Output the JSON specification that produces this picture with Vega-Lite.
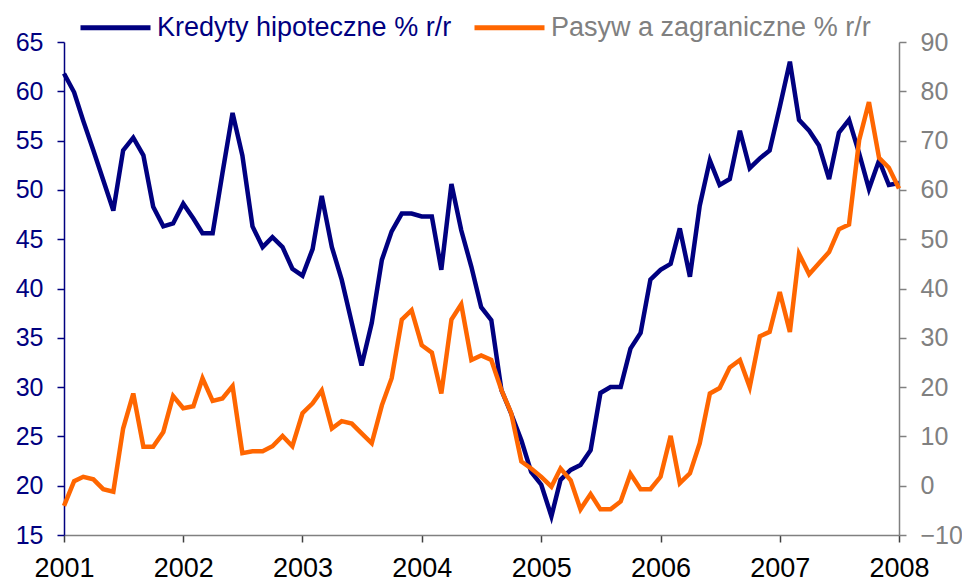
{
  "$schema": "https://vega.github.io/schema/vega-lite/v6.json",
  "width": 835,
  "height": 493,
  "autosize": {"type": "none"},
  "padding": {"left": 64, "top": 42, "right": 63, "bottom": 51},
  "background": "white",
  "config": {"view": {"stroke": null}, "font": "Liberation Sans", "axis": {"grid": false}},
  "data": {"values": [
    {"d":"2001-01-01","k":61.8,"p":-4.1},{"d":"2001-02-01","k":59.9,"p":0.9},{"d":"2001-03-01","k":57.0,"p":1.8},{"d":"2001-04-01","k":54.0,"p":1.3},{"d":"2001-05-01","k":51.0,"p":-0.7},{"d":"2001-06-01","k":47.9,"p":-1.2},{"d":"2001-07-01","k":54.0,"p":11.6},{"d":"2001-08-01","k":55.3,"p":18.7},{"d":"2001-09-01","k":53.5,"p":7.9},{"d":"2001-10-01","k":48.3,"p":7.9},{"d":"2001-11-01","k":46.3,"p":10.9},{"d":"2001-12-01","k":46.6,"p":18.2},
    {"d":"2002-01-01","k":48.6,"p":15.7},{"d":"2002-02-01","k":47.1,"p":16.1},{"d":"2002-03-01","k":45.6,"p":21.8},{"d":"2002-04-01","k":45.6,"p":17.2},{"d":"2002-05-01","k":51.7,"p":17.7},{"d":"2002-06-01","k":57.8,"p":20.2},{"d":"2002-07-01","k":53.5,"p":6.6},{"d":"2002-08-01","k":46.3,"p":7.0},{"d":"2002-09-01","k":44.2,"p":7.0},{"d":"2002-10-01","k":45.2,"p":8.0},{"d":"2002-11-01","k":44.2,"p":10.1},{"d":"2002-12-01","k":42.0,"p":8.0},
    {"d":"2003-01-01","k":41.3,"p":14.7},{"d":"2003-02-01","k":44.0,"p":16.7},{"d":"2003-03-01","k":49.4,"p":19.3},{"d":"2003-04-01","k":44.2,"p":11.6},{"d":"2003-05-01","k":40.9,"p":13.1},{"d":"2003-06-01","k":36.5,"p":12.6},{"d":"2003-07-01","k":32.2,"p":10.6},{"d":"2003-08-01","k":36.5,"p":8.6},{"d":"2003-09-01","k":42.9,"p":16.3},{"d":"2003-10-01","k":45.8,"p":21.8},{"d":"2003-11-01","k":47.6,"p":33.7},{"d":"2003-12-01","k":47.6,"p":35.6},
    {"d":"2004-01-01","k":47.3,"p":28.5},{"d":"2004-02-01","k":47.3,"p":27.0},{"d":"2004-03-01","k":41.9,"p":18.7},{"d":"2004-04-01","k":50.6,"p":33.7},{"d":"2004-05-01","k":45.9,"p":36.8},{"d":"2004-06-01","k":42.2,"p":25.5},{"d":"2004-07-01","k":38.1,"p":26.4},{"d":"2004-08-01","k":36.8,"p":25.5},{"d":"2004-09-01","k":29.7,"p":19.4},{"d":"2004-10-01","k":27.3,"p":14.7},{"d":"2004-11-01","k":24.6,"p":4.9},{"d":"2004-12-01","k":21.4,"p":3.5},
    {"d":"2005-01-01","k":20.1,"p":1.8},{"d":"2005-02-01","k":16.9,"p":-0.2},{"d":"2005-03-01","k":20.6,"p":3.5},{"d":"2005-04-01","k":21.6,"p":1.1},{"d":"2005-05-01","k":22.1,"p":-4.8},{"d":"2005-06-01","k":23.6,"p":-1.7},{"d":"2005-07-01","k":29.4,"p":-4.8},{"d":"2005-08-01","k":30.0,"p":-4.8},{"d":"2005-09-01","k":30.0,"p":-3.2},{"d":"2005-10-01","k":33.9,"p":2.4},{"d":"2005-11-01","k":35.5,"p":-0.7},{"d":"2005-12-01","k":40.9,"p":-0.7},
    {"d":"2006-01-01","k":41.9,"p":1.8},{"d":"2006-02-01","k":42.5,"p":10.1},{"d":"2006-03-01","k":46.1,"p":0.5},{"d":"2006-04-01","k":41.2,"p":2.5},{"d":"2006-05-01","k":48.4,"p":8.6},{"d":"2006-06-01","k":53.0,"p":18.7},{"d":"2006-07-01","k":50.5,"p":19.8},{"d":"2006-08-01","k":51.1,"p":24.0},{"d":"2006-09-01","k":56.0,"p":25.5},{"d":"2006-10-01","k":52.2,"p":20.0},{"d":"2006-11-01","k":53.2,"p":30.3},{"d":"2006-12-01","k":54.0,"p":31.2},
    {"d":"2007-01-01","k":58.4,"p":39.3},{"d":"2007-02-01","k":63.0,"p":31.2},{"d":"2007-03-01","k":57.1,"p":47.0},{"d":"2007-04-01","k":56.0,"p":42.9},{"d":"2007-05-01","k":54.5,"p":45.1},{"d":"2007-06-01","k":51.1,"p":47.4},{"d":"2007-07-01","k":55.8,"p":52.0},{"d":"2007-08-01","k":57.1,"p":53.0},{"d":"2007-09-01","k":53.7,"p":70.1},{"d":"2007-10-01","k":50.1,"p":77.8},{"d":"2007-11-01","k":53.0,"p":66.5},{"d":"2007-12-01","k":50.5,"p":64.5},
    {"d":"2008-01-01","k":50.7,"p":60.3}
  ]},
  "encoding": {
    "x": {
      "field": "d", "type": "temporal",
      "scale": {"type": "utc", "domain": [{"year": 2001, "month": 1, "date": 1, "utc": true}, {"year": 2008, "month": 1, "date": 1, "utc": true}]},
      "axis": {"title": null, "format": "%Y", "tickCount": {"interval": "year", "step": 1}, "labelFlush": false, "labelOverlap": false,
        "domainColor": "#808080", "domainWidth": 1.5, "tickColor": "#404040", "tickWidth": 1.5, "tickSize": 7,
        "labelFontSize": 27, "labelColor": "#000000", "labelPadding": 13, "labelFont": "Liberation Sans"}
    }
  },
  "layer": [
    {
      "mark": {"type": "line", "strokeWidth": 4.5},
      "encoding": {
        "y": {"field": "k", "type": "quantitative", "scale": {"domain": [15, 65], "nice": false, "zero": false},
          "axis": {"title": null, "orient": "left", "values": [15, 20, 25, 30, 35, 40, 45, 50, 55, 60, 65],
            "domainColor": "#000080", "domainWidth": 1.5, "tickColor": "#000080", "tickWidth": 1.5, "tickSize": 7,
            "labelFontSize": 25, "labelColor": "#000080", "labelPadding": 14, "labelFont": "Liberation Sans"}},
        "color": {"datum": "Kredyty hipoteczne % r/r", "type": "nominal",
          "scale": {"domain": ["Kredyty hipoteczne % r/r", "Pasyw a zagraniczne % r/r"], "range": ["#000080", "#FF6600"]},
          "legend": {"orient": "none", "legendX": 14, "legendY": -52, "direction": "horizontal", "title": null, "padding": 0,
            "symbolType": "stroke", "symbolSize": 4900, "symbolStrokeWidth": 5,
            "labelFontSize": 27, "labelFont": "Liberation Sans", "labelLimit": 500, "labelOffset": 4, "columnPadding": 12,
            "encode": {"labels": {"update": {"fill": {"signal": "datum.value === 'Kredyty hipoteczne % r/r' ? '#000080' : '#808080'"}}}}}}
      }
    },
    {
      "mark": {"type": "line", "strokeWidth": 4.5},
      "encoding": {
        "y": {"field": "p", "type": "quantitative", "scale": {"domain": [-10, 90], "nice": false, "zero": false},
          "axis": {"title": null, "orient": "right", "values": [-10, 0, 10, 20, 30, 40, 50, 60, 70, 80, 90],
            "domainColor": "#808080", "domainWidth": 1.5, "tickColor": "#808080", "tickWidth": 1.5, "tickSize": 7,
            "labelFontSize": 25, "labelColor": "#808080", "labelPadding": 14, "labelFont": "Liberation Sans"}},
        "color": {"datum": "Pasyw a zagraniczne % r/r", "type": "nominal"}
      }
    }
  ],
  "resolve": {"scale": {"y": "independent"}}
}
